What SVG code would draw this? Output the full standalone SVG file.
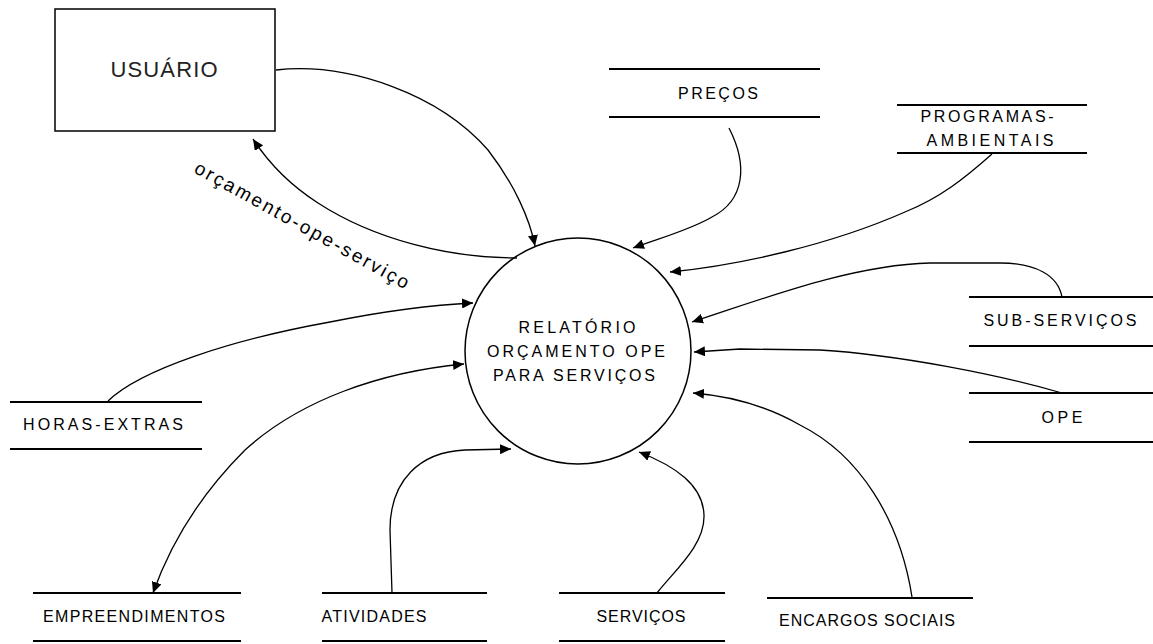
<svg xmlns="http://www.w3.org/2000/svg" width="1153" height="644" viewBox="0 0 1153 644">
<defs>
<style>
.ln{stroke:#000;stroke-width:1.5;fill:none}
.st{stroke:#000;stroke-width:2;fill:none}
.lbl{font-family:"Liberation Sans",Arial,sans-serif;font-size:16px;fill:#000;text-anchor:middle}
.con{stroke:#000;stroke-width:1.3;fill:none;marker-end:url(#ah)}
</style>
<marker id="ah" markerUnits="userSpaceOnUse" markerWidth="12" markerHeight="10" refX="11" refY="5" orient="auto-start-reverse">
<path d="M0,0 L11,5 L0,10 z" fill="#000"/>
</marker>
</defs>
<rect width="1153" height="644" fill="#fff"/>

<g id="usuario">
<rect x="55" y="9" width="220" height="122" class="ln"/>
<text x="164" y="77" style="font-family:'Liberation Sans',Arial,sans-serif;font-size:22px;fill:#222;text-anchor:middle" textLength="107">USUÁRIO</text>
</g>

<g id="processo">
<circle cx="578" cy="351" r="113" class="ln"/>
<text class="lbl" x="577" y="333" textLength="117">RELATÓRIO</text>
<text class="lbl" x="576" y="357" textLength="178">ORÇAMENTO OPE</text>
<text class="lbl" x="574" y="381" textLength="162">PARA SERVIÇOS</text>
</g>

<g id="precos">
<line x1="609" y1="69" x2="820" y2="69" class="st"/>
<line x1="609" y1="117" x2="820" y2="117" class="st"/>
<text class="lbl" x="718" y="99" textLength="80">PREÇOS</text>
</g>

<g id="programas-ambientais">
<line x1="897" y1="105" x2="1087" y2="105" class="st"/>
<line x1="897" y1="153" x2="1087" y2="153" class="st"/>
<text class="lbl" x="987" y="122" textLength="133">PROGRAMAS-</text>
<text class="lbl" x="990" y="146" textLength="127">AMBIENTAIS</text>
</g>

<g id="sub-servicos">
<line x1="969" y1="297" x2="1153" y2="297" class="st"/>
<line x1="969" y1="346" x2="1153" y2="346" class="st"/>
<text class="lbl" x="1060" y="326" textLength="153">SUB-SERVIÇOS</text>
</g>

<g id="ope">
<line x1="969" y1="393" x2="1153" y2="393" class="st"/>
<line x1="969" y1="442" x2="1153" y2="442" class="st"/>
<text class="lbl" x="1062" y="423" textLength="41">OPE</text>
</g>

<g id="horas-extras">
<line x1="10" y1="402" x2="202" y2="402" class="st"/>
<line x1="10" y1="449" x2="202" y2="449" class="st"/>
<text class="lbl" x="103" y="430" textLength="160">HORAS-EXTRAS</text>
</g>

<g id="empreendimentos">
<line x1="33" y1="593" x2="241" y2="593" class="st"/>
<line x1="33" y1="641" x2="241" y2="641" class="st"/>
<text class="lbl" x="134" y="622" textLength="182">EMPREENDIMENTOS</text>
</g>

<g id="atividades">
<line x1="322" y1="593" x2="487" y2="593" class="st"/>
<line x1="322" y1="641" x2="487" y2="641" class="st"/>
<text class="lbl" x="374" y="622" textLength="105">ATIVIDADES</text>
</g>

<g id="servicos">
<line x1="559" y1="593" x2="725" y2="593" class="st"/>
<line x1="559" y1="641" x2="725" y2="641" class="st"/>
<text class="lbl" x="641" y="622" textLength="89">SERVIÇOS</text>
</g>

<g id="encargos-sociais">
<line x1="767" y1="598" x2="973" y2="598" class="st"/>
<text class="lbl" x="867" y="626" textLength="176">ENCARGOS SOCIAIS</text>
</g>

<g id="connectors">
<path class="con" d="M276 70 C350 62 440 95 488 150 C515 185 530 220 535 246"/>
<path class="con" d="M517 258 C450 258 375 240 318 203 C290 185 268 162 253 139"/>
<path class="con" d="M729 128 C748 165 745 200 712 217 C690 230 660 238 633 248"/>
<path class="con" d="M992 154 C965 178 940 198 905 212 C830 245 740 265 670 272"/>
<path class="con" d="M1062 297 C1058 275 1035 263 1000 263 L930 263 C850 265 760 300 692 322"/>
<path class="con" d="M1062 393 C1000 375 900 355 820 350 L740 349 L694 352"/>
<path class="con" d="M108 401 C140 370 230 340 330 322 C380 312 430 305 473 303"/>
<path class="con" style="marker-start:url(#ah)" d="M464 364 C380 372 300 400 245 450 C200 495 170 545 153 593"/>
<path class="con" d="M392 593 L390 530 C390 480 420 452 465 450 L511 449"/>
<path class="con" d="M657 593 C675 570 705 545 704 515 C703 485 675 466 639 452"/>
<path class="con" d="M912 597 C900 520 860 455 800 425 C765 405 730 396 693 393"/>
<text x="193" y="172" transform="rotate(29 193 172)" style="font-family:'Liberation Sans',Arial,sans-serif;font-size:19px;fill:#000" textLength="242">orçamento-ope-serviço</text>
</g>
</svg>
